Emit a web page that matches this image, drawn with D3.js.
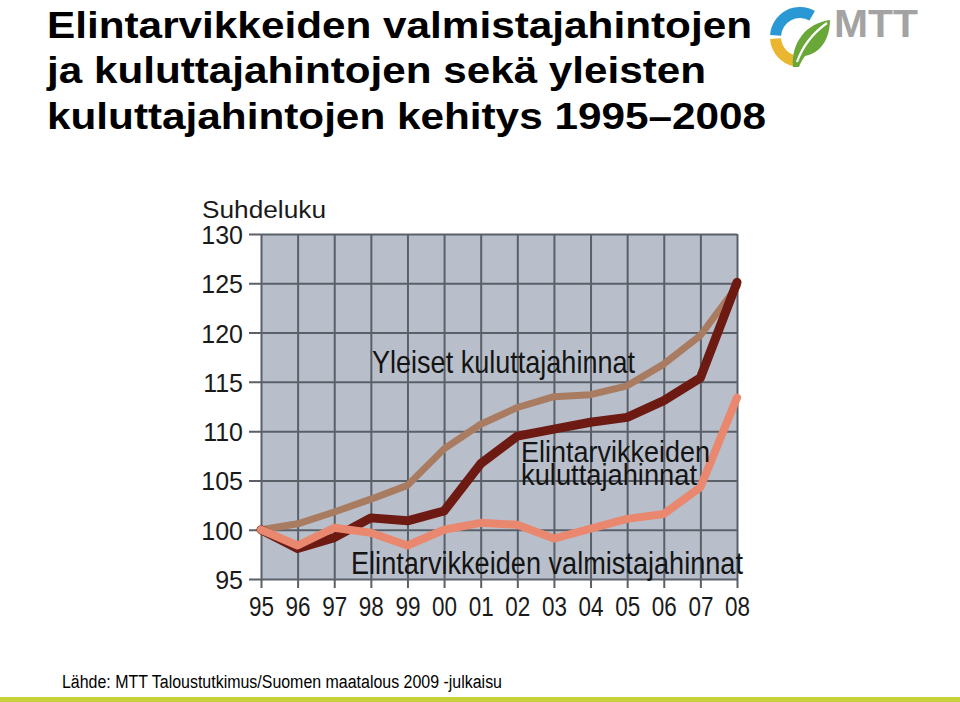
<!DOCTYPE html>
<html>
<head>
<meta charset="utf-8">
<script src="https://cdn.jsdelivr.net/npm/d3@7"></script>
<style>
  html, body { margin: 0; padding: 0; background: #fff; }
  svg { display: block; }
</style>
</head>
<body>
<svg id="chart" width="960" height="702"></svg>
<script>
// ---- data ----
const years = ["95","96","97","98","99","00","01","02","03","04","05","06","07","08"];
const yleisetKuluttajahinnat = [100, 100.6, 101.8, 103.1, 104.5, 108.2, 110.7, 112.4, 113.5, 113.7, 114.6, 116.8, 119.7, 124.7];
const elintarvikeKuluttajahinnat = [100, 98.1, 99.2, 101.2, 100.9, 101.9, 106.7, 109.5, 110.2, 110.9, 111.4, 113.1, 115.4, 125.1];
const elintarvikeValmistajahinnat = [100, 98.4, 100.2, 99.7, 98.4, 100.0, 100.7, 100.5, 99.1, 100.1, 101.1, 101.6, 104.3, 113.4];
const yTicks = [95, 100, 105, 110, 115, 120, 125, 130];
const titleLines = ["Elintarvikkeiden valmistajahintojen", "ja kuluttajahintojen sekä yleisten", "kuluttajahintojen kehitys 1995–2008"];
const seriesLabels = ["Yleiset kuluttajahinnat", "Elintarvikkeiden", "kuluttajahinnat", "Elintarvikkeiden valmistajahinnat"];
const yAxisTitle = "Suhdeluku";
const sourceText = "Lähde: MTT Taloustutkimus/Suomen maatalous 2009 -julkaisu";

(function () {
const svg = d3.select("#chart");
const SANS = "'Liberation Sans', Arial, sans-serif";
const NARROW = "'Liberation Sans Narrow', 'Arial Narrow', 'Liberation Sans', sans-serif";

// ---- title ----
const titleBase = [38, 83, 129];
const titleWidths = [705, 659, 719];
titleLines.forEach((t, i) => {
  svg.append("text")
    .attr("x", 47).attr("y", titleBase[i])
    .attr("font-family", SANS).attr("font-weight", "bold").attr("font-size", 36)
    .attr("fill", "#000")
    .attr("textLength", titleWidths[i]).attr("lengthAdjust", "spacingAndGlyphs")
    .text(t);
});

// ---- logo ----
const logo = svg.append("g").attr("transform", "translate(800,37)");
const arc = d3.arc().innerRadius(19).outerRadius(30);
logo.append("path").attr("fill", "#2b98d6")
  .attr("d", arc({startAngle: 3 * Math.PI / 2 + 0.07, endAngle: 2 * Math.PI + 0.52}));
logo.append("path").attr("fill", "#eab52f")
  .attr("d", arc({startAngle: Math.PI + 0.2, endAngle: 3 * Math.PI / 2 - 0.07}));
logo.append("path").attr("fill", "#6aa739")
  .attr("d", "M-7,30 C-9,6 6,-14 30,-17 C30,0 22,16 5,19 C2,23 0,27 -1,30 Z");
logo.append("path").attr("fill", "none").attr("stroke", "#fff").attr("stroke-width", 2.2)
  .attr("d", "M-3,25 C3,8 13,-4 27,-14");
svg.append("text")
  .attr("x", 834).attr("y", 37)
  .attr("font-family", SANS).attr("font-weight", "bold").attr("font-size", 38)
  .attr("fill", "#a3a3a3")
  .attr("textLength", 84).attr("lengthAdjust", "spacingAndGlyphs")
  .text("MTT");

// ---- chart ----
const pLeft = 261, pRight = 737, pTop = 234, pBottom = 579;
const x = d3.scaleLinear().domain([0, years.length - 1]).range([pLeft, pRight]);
const y = d3.scaleLinear().domain([95, 130]).range([pBottom, pTop]);
const gridColor = "#5a6068";

svg.append("rect")
  .attr("x", pLeft).attr("y", pTop)
  .attr("width", pRight - pLeft).attr("height", pBottom - pTop)
  .attr("fill", "#b8bfcb");

// y axis with gridlines
const yAxis = d3.axisLeft(y).tickValues(yTicks).tickSizeInner(-(pRight - 249)).tickSizeOuter(0).tickPadding(6);
const gy = svg.append("g").attr("transform", "translate(249,0)").call(yAxis);
gy.select(".domain").remove();
gy.selectAll(".tick line").attr("stroke", gridColor).attr("stroke-width", 2);
gy.selectAll(".tick text")
  .attr("font-family", SANS).attr("font-size", 25).attr("fill", "#1a1a1a")
  .attr("dy", "0.38em");

// x axis with gridlines
const xAxis = d3.axisBottom(x).tickValues(d3.range(years.length)).tickFormat(i => years[i])
  .tickSizeInner(-(588 - pTop)).tickSizeOuter(0).tickPadding(9);
const gx = svg.append("g").attr("transform", "translate(0,588)").call(xAxis);
gx.select(".domain").remove();
gx.selectAll(".tick line").attr("stroke", gridColor).attr("stroke-width", 2);
gx.selectAll(".tick text")
  .attr("font-family", NARROW).attr("font-size", 28).attr("fill", "#1a1a1a")
  .attr("dy", "0.68em")
  .attr("textLength", 25).attr("lengthAdjust", "spacingAndGlyphs");

// y axis title
svg.append("text")
  .attr("x", 202).attr("y", 218)
  .attr("font-family", SANS).attr("font-size", 23).attr("fill", "#1a1a1a")
  .attr("textLength", 124).attr("lengthAdjust", "spacingAndGlyphs")
  .text(yAxisTitle);

// lines
const line = d3.line().x((d, i) => x(i)).y(d => y(d));
const series = [
  {values: yleisetKuluttajahinnat, color: "#a97c62", width: 7},
  {values: elintarvikeKuluttajahinnat, color: "#6c1a12", width: 9},
  {values: elintarvikeValmistajahinnat, color: "#e9886f", width: 8}
];
series.forEach(s => {
  svg.append("path")
    .attr("d", line(s.values))
    .attr("fill", "none").attr("stroke", s.color).attr("stroke-width", s.width)
    .attr("stroke-linejoin", "round").attr("stroke-linecap", "round");
});

// series labels
const labelSpec = [
  {x: 372, y: 373, w: 263, size: 32},
  {x: 521, y: 462, w: 189, size: 30},
  {x: 521, y: 485, w: 176, size: 30},
  {x: 351, y: 574, w: 392, size: 31}
];
seriesLabels.forEach((t, i) => {
  const s = labelSpec[i];
  svg.append("text")
    .attr("x", s.x).attr("y", s.y)
    .attr("font-family", NARROW).attr("font-size", s.size).attr("fill", "#141414")
    .attr("textLength", s.w).attr("lengthAdjust", "spacingAndGlyphs")
    .text(t);
});

// source
svg.append("text")
  .attr("x", 62).attr("y", 688)
  .attr("font-family", NARROW).attr("font-size", 18).attr("fill", "#000")
  .attr("textLength", 440).attr("lengthAdjust", "spacingAndGlyphs")
  .text(sourceText);

// bottom green band
svg.append("rect").attr("x", 0).attr("y", 697).attr("width", 960).attr("height", 5).attr("fill", "#c7d23b");
})();
</script>
</body>
</html>
